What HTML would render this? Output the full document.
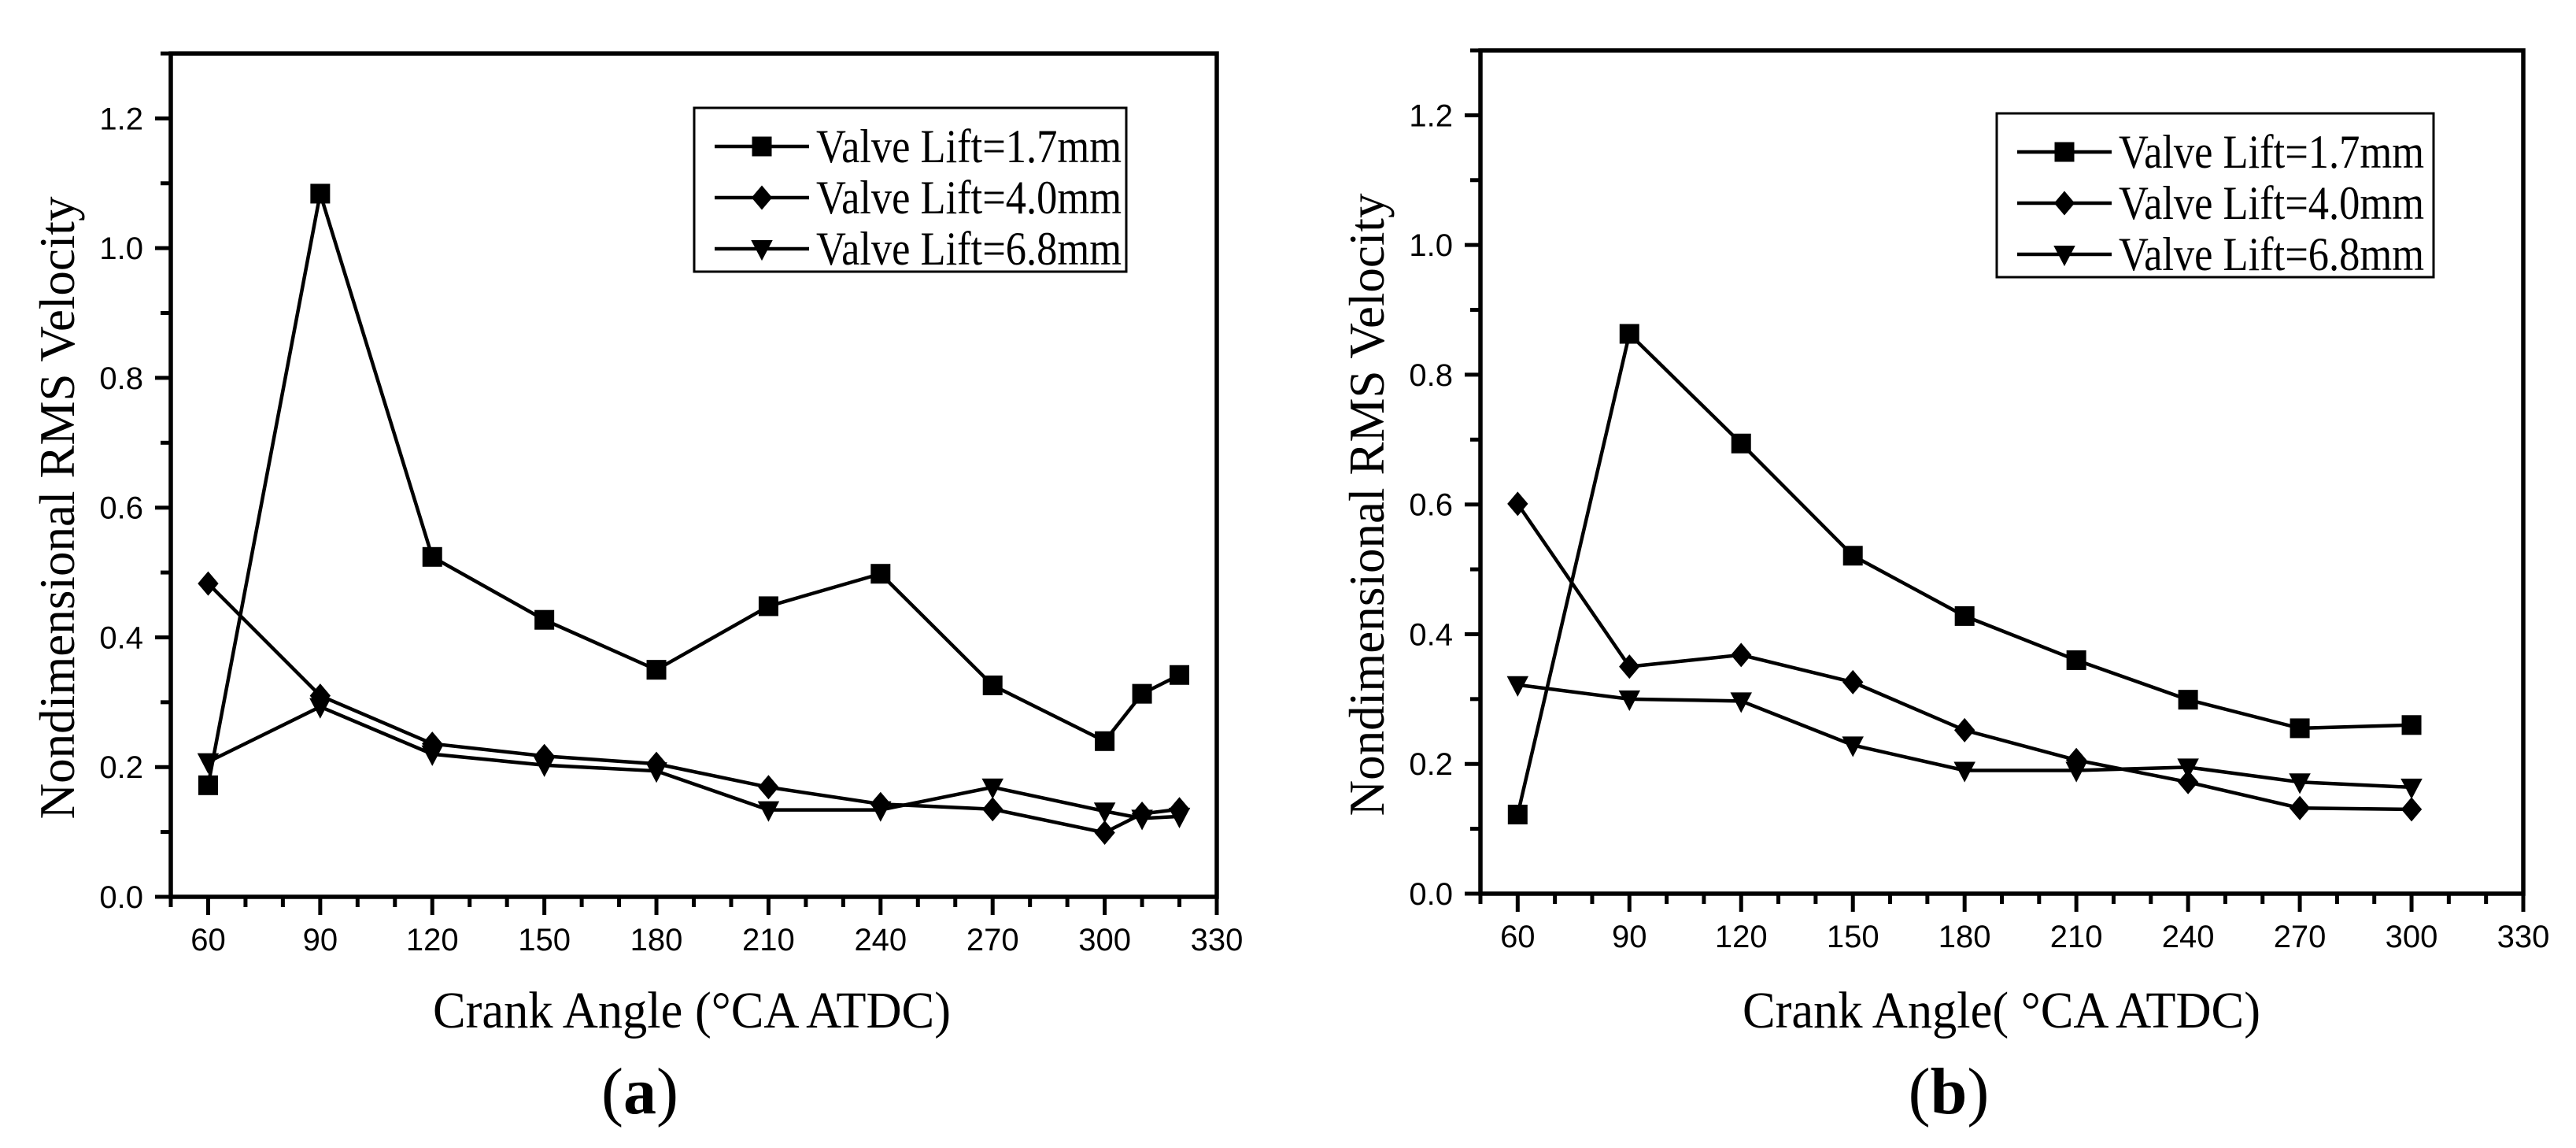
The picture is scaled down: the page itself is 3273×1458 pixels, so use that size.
<!DOCTYPE html>
<html><head><meta charset="utf-8"><style>
html,body{margin:0;padding:0;background:#fff;}
svg{display:block;}
</style></head><body>
<svg id="fig" width="3273" height="1458" viewBox="0 0 3273 1458" xmlns="http://www.w3.org/2000/svg">
<rect x="0" y="0" width="3273" height="1458" fill="#fff"/>
</svg>
<script>
// ---- data ----
const xA = [60, 90, 120, 150, 180, 210, 240, 270, 300, 310, 320];
const a17 = [0.172, 1.084, 0.524, 0.427, 0.350, 0.448, 0.498, 0.326, 0.240, 0.313, 0.342];
const a40 = [0.483, 0.310, 0.236, 0.217, 0.205, 0.169, 0.143, 0.135, 0.099, 0.128, 0.135];
const a68 = [0.208, 0.293, 0.220, 0.203, 0.194, 0.134, 0.134, 0.169, 0.132, 0.121, 0.124];
const xB = [60, 90, 120, 150, 180, 210, 240, 270, 300];
const b17 = [0.122, 0.863, 0.694, 0.521, 0.428, 0.360, 0.299, 0.255, 0.260];
const b40 = [0.601, 0.350, 0.368, 0.326, 0.252, 0.206, 0.172, 0.132, 0.130];
const b68 = [0.322, 0.300, 0.297, 0.229, 0.190, 0.190, 0.195, 0.172, 0.164];
const xTickLabels = ["60","90","120","150","180","210","240","270","300","330"];
const yTickLabels = ["0.0","0.2","0.4","0.6","0.8","1.0","1.2"];
const legendLabels = ["Valve Lift=1.7mm","Valve Lift=4.0mm","Valve Lift=6.8mm"];

const NS = "http://www.w3.org/2000/svg";
const svg = document.getElementById('fig');
function mk(tag, attrs, parent) {
  const e = document.createElementNS(NS, tag);
  for (const k in attrs) e.setAttribute(k, attrs[k]);
  (parent || svg).appendChild(e);
  return e;
}
function marker(g, type, cx, cy, s) {
  let e;
  if (type === 'square') {
    e = mk('rect', {x: cx - s/2, y: cy - s/2, width: s, height: s, fill: '#000'}, g);
  } else if (type === 'diamond') {
    const h = s * 0.62;
    e = mk('polygon', {points: `${cx},${cy-h} ${cx+h*0.85},${cy} ${cx},${cy+h} ${cx-h*0.85},${cy}`, fill: '#000'}, g);
  } else {
    const h = s * 0.55;
    e = mk('polygon', {points: `${cx-h},${cy-h*0.8} ${cx+h},${cy-h*0.8} ${cx},${cy+h*1.1}`, fill: '#000'}, g);
  }
  return e;
}

function drawChart(cfg) {
  const g = mk('g', {});
  
  
  const X = v => cfg.left + (v - 50) / 280 * (cfg.right - cfg.left);
  const Y = v => cfg.bottom - v / 1.3 * (cfg.bottom - cfg.top);

  const frame = mk('rect', {x: cfg.left, y: cfg.top, width: cfg.right - cfg.left, height: cfg.bottom - cfg.top, fill: 'none', stroke: '#000', 'stroke-width': 5.5}, g);
  
  

  for (let v = 50; v <= 330; v += 10) {
    const major = (v - 60) % 30 === 0;
    const t = mk('line', {x1: X(v), x2: X(v), y1: cfg.bottom, y2: cfg.bottom + (major ? 23 : 13), stroke: '#000', 'stroke-width': 5}, g);
    
    
  }
  xTickLabels.forEach((lab) => {
    const v = parseFloat(lab);
    const t = mk('text', {x: X(v), y: cfg.bottom + 68, 'text-anchor': 'middle', 'font-family': 'Liberation Sans, sans-serif', 'font-size': 40}, g);
    t.textContent = lab;
    
    
  });
  for (let i = 0; i <= 13; i++) {
    const v = i / 10;
    const major = i % 2 === 0;
    const t = mk('line', {x1: cfg.left, x2: cfg.left - (major ? 20 : 13), y1: Y(v), y2: Y(v), stroke: '#000', 'stroke-width': 5}, g);
    
    
  }
  yTickLabels.forEach((lab) => {
    const v = parseFloat(lab);
    const t = mk('text', {x: cfg.left - 35, y: Y(v) + 14, 'text-anchor': 'end', 'font-family': 'Liberation Sans, sans-serif', 'font-size': 40}, g);
    t.textContent = lab;
    
    
  });
  const yt = mk('text', {x: 0, y: 0, transform: `translate(${cfg.left - 123},${cfg.yTitleC}) rotate(-90)`, 'text-anchor': 'middle', 'font-family': 'Liberation Serif, serif', 'font-size': 64, textLength: 791, lengthAdjust: 'spacingAndGlyphs'}, g);
  yt.textContent = 'Nondimensional RMS Velocity';
  
  
  const xt = mk('text', {x: cfg.xtX, y: 1305, 'font-family': 'Liberation Serif, "Noto Serif CJK SC", serif', 'font-size': 66, textLength: cfg.xtW, lengthAdjust: 'spacingAndGlyphs'}, g);
  xt.textContent = cfg.xTitle;
  
  
  const pl = mk('text', {x: cfg.panelX, y: 1414, 'text-anchor': 'middle', 'font-family': 'Liberation Serif, serif', 'font-size': 84}, g);
  pl.innerHTML = '(<tspan font-weight="bold">' + cfg.panel + '</tspan>)';
  
  

  const types = ['square', 'diamond', 'triangle'];
  cfg.series.forEach((ys, si) => {
    const sg = mk('g', {}, g);
    
    
    const pts = cfg.xs.map((x, i) => X(x) + ',' + Y(ys[i])).join(' ');
    const pl2 = mk('polyline', {points: pts, fill: 'none', stroke: '#000', 'stroke-width': 4.5}, sg);
    
    
    cfg.xs.forEach((x, i) => {
      const m = marker(sg, types[si], X(x), Y(ys[i]), 25);
      
      
    });
  });

  const lg = mk('g', {}, g);
  
  
  const L = cfg.legend;
  const box = mk('rect', {x: L.x, y: L.y, width: L.w, height: L.h, fill: '#fff', stroke: '#000', 'stroke-width': 3}, lg);
  
  
  legendLabels.forEach((lab, i) => {
    const cy = L.y + 49 + i * 65;
    const ln = mk('line', {x1: L.x + 26, x2: L.x + 146, y1: cy, y2: cy, stroke: '#000', 'stroke-width': 4.5}, lg);
    
    
    const m = marker(lg, types[i], L.x + 86, cy, 25);
    
    
    const t = mk('text', {x: L.x + 155, y: cy + 20, 'font-family': 'Liberation Serif, serif', 'font-size': 60, textLength: 388, lengthAdjust: 'spacingAndGlyphs'}, lg);
    t.textContent = lab;
    
    
  });
}

drawChart({name: 'chart-a', left: 217, right: 1546, top: 68, bottom: 1139, xs: xA, series: [a17, a40, a68],
  xTitle: 'Crank Angle (°CA ATDC)', xtX: 550, xtW: 658, panel: 'a', panelX: 813, yTitleC: 645,
  legend: {x: 882, y: 137, w: 549, h: 208}});
drawChart({name: 'chart-b', left: 1881, right: 3206, top: 64, bottom: 1135, xs: xB, series: [b17, b40, b68],
  xTitle: 'Crank Angle( °CA ATDC)', xtX: 2214, xtW: 658, panel: 'b', panelX: 2476, yTitleC: 641,
  legend: {x: 2537, y: 144, w: 555, h: 208}});
</script>
</body></html>
